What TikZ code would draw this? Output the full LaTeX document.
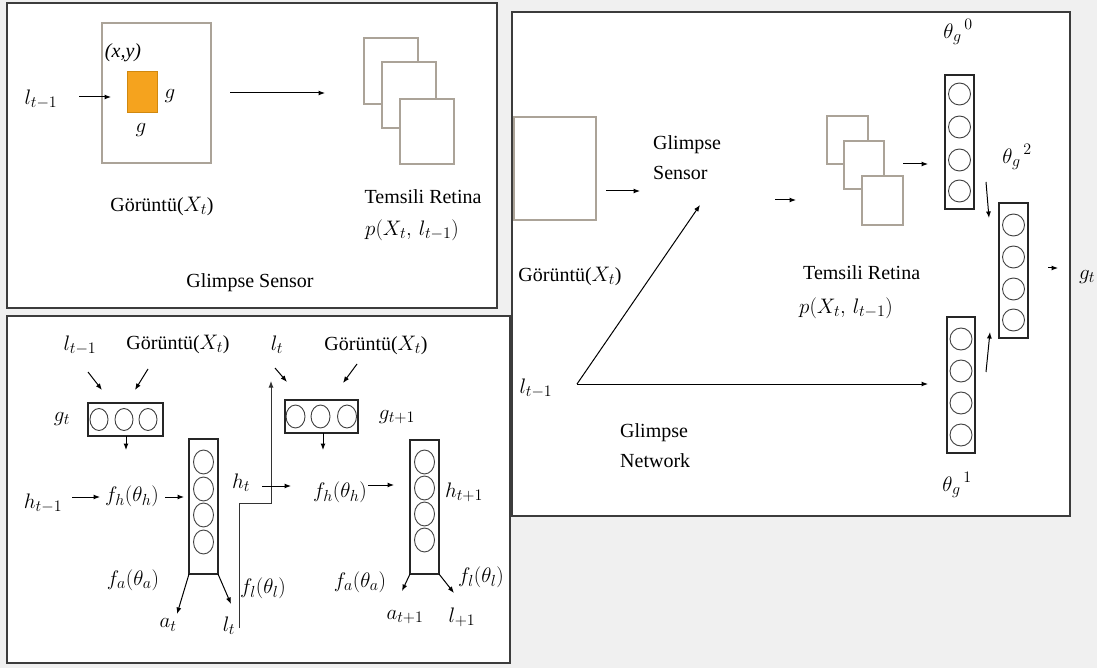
\RequirePackage{fix-cm}
\documentclass[tikz,border=0pt]{standalone}
\usepackage{fontspec}
\setmainfont{Liberation Serif}
\usetikzlibrary{arrows.meta}
\DeclareMathSizes{20}{21}{16}{12}
\definecolor{bgc}{HTML}{F0F0F0}
\definecolor{panelc}{HTML}{3C3C3C}
\definecolor{imgc}{HTML}{ABA398}
\definecolor{orangec}{HTML}{F5A31E}
\definecolor{orangeb}{HTML}{D0880F}
\begin{document}
\begin{tikzpicture}[x=1pt,y=-1pt,
  every node/.style={inner sep=1pt, font=\fontsize{20}{24}\selectfont},
  panel/.style={draw=panelc, line width=1.6pt, fill=white},
  imgbox/.style={draw=imgc, line width=1.2pt, fill=white, inner sep=0pt, outer sep=0pt},
  colbox/.style={draw=black!85, line width=1.3pt, inner sep=0pt, outer sep=0pt},
  neuron/.style={draw=black!75, line width=0.9pt},
  arr/.style={-{Latex[length=6.5pt,width=5pt]}, line width=1pt},
  elbow/.style={draw=black!80, line width=1.1pt}]
\fill[bgc] (0,0) rectangle (1097,668);
\useasboundingbox (0,0) rectangle (1097,668);
\draw[panel] (7,3) rectangle (497,308);
\draw[panel] (7,316) rectangle (510,663);
\draw[panel] (512,12) rectangle (1070,516);

% ---------------- Panel A: Glimpse Sensor
\node[imgbox, minimum width=109, minimum height=140] (img) at (156.5,93) {};
\node[fill=orangec, draw=orangeb, line width=0.8pt, minimum width=30, minimum height=41, inner sep=0pt] (patch) at (142,91.5) {};
\node (xy) at (123,53) {\textit{(x,y)}};
\node (gw) at (170,96) {$g$};
\node (gh) at (141,130) {$g$};
\node (lA) at (41,99) {$l_{t-1}$};
\coordinate (lAs) at (79,97); \coordinate (lAe) at (111,97);
\draw[arr] (lAs) -- (lAe);
\coordinate (mAs) at (230,93); \coordinate (mAe) at (325,93);
\draw[arr] (mAs) -- (mAe);
\node[imgbox, minimum width=54, minimum height=66] (r1) at (391,71) {};
\node[imgbox, minimum width=54, minimum height=66] (r2) at (409,95) {};
\node[imgbox, minimum width=54, minimum height=65] (r3) at (427,131.5) {};
\node (imgtxt) at (162,206) {Görüntü($X_t$)};
\node (rettxt) at (423,197) {Temsili Retina};
\node[anchor=west] (rettxtb) at (364,230) {$p(X_t,\, l_{t-1})$};
\node (gsA) at (250,283) {Glimpse Sensor};

% ---------------- Panel B: recurrent model
\node (lB1) at (80,345) {$l_{t-1}$};
\node (imB1) at (178,344) {Görüntü($X_t$)};
\coordinate (b1s) at (88,372); \coordinate (b1e) at (102,390);
\coordinate (b2s) at (148,369); \coordinate (b2e) at (135,390);
\draw[arr] (b1s) -- (b1e);
\draw[arr] (b2s) -- (b2e);
\node[colbox, minimum width=75, minimum height=33] (gB1) at (125.5,419.5) {};
\foreach \x in {99,124,148} \draw[neuron] (\x,419.5) ellipse [x radius=9pt, y radius=11pt];
\node (gtB) at (62,419) {$g_t$};
\coordinate (b3e) at (126,450);
\draw[arr] (gB1.south -| b3e) -- (b3e);
\node (hm1) at (43,503) {$h_{t-1}$};
\coordinate (b4s) at (72,497); \coordinate (b4e) at (100,497);
\draw[arr] (b4s) -- (b4e);
\node (fh1) at (132,496) {$f_h(\theta_h)$};
\coordinate (b5s) at (165,497); \coordinate (b5e) at (184,497);
\draw[arr] (b5s) -- (b5e);
\node[colbox, minimum width=29, minimum height=135] (hB1) at (203.5,506.5) {};
\foreach \y in {462,489,515,542} \draw[neuron] (203.5,\y) ellipse [x radius=10pt, y radius=12pt];
\node (ht) at (241,483) {$h_t$};
\coordinate (b6e) at (177,614); \coordinate (b7e) at (231,604);
\draw[arr] (hB1.south west) -- (b6e);
\draw[arr] (hB1.south east) -- (b7e);
\node (fa1) at (133,580) {$f_a(\theta_a)$};
\node (at1) at (168,625) {$a_t$};
\node (lt1) at (229,626) {$l_t$};
\node (fl1) at (263,588) {$f_l(\theta_l)$};
\coordinate (e1) at (239,628); \coordinate (e2) at (239,503);
\coordinate (e3) at (271,503); \coordinate (e4) at (271,381);
\draw[elbow, arr] (e1) -- (e2) -- (e3) -- (e4);
\node (lB2) at (277,345) {$l_t$};
\node (imB2) at (376,345) {Görüntü($X_t$)};
\coordinate (c1s) at (275,368); \coordinate (c1e) at (287,382);
\coordinate (c2s) at (357,364); \coordinate (c2e) at (343,383);
\draw[arr] (c1s) -- (c1e);
\draw[arr] (c2s) -- (c2e);
\node[colbox, minimum width=73, minimum height=33] (gB2) at (321.5,416.5) {};
\foreach \x in {295.5,320.5,347} \draw[neuron] (\x,416.5) ellipse [x radius=9.5pt, y radius=11.5pt];
\node (gt2) at (397,417) {$g_{t+1}$};
\coordinate (c3e) at (323,450);
\draw[arr] (gB2.south -| c3e) -- (c3e);
\coordinate (c4s) at (262,486); \coordinate (c4e) at (291,486);
\draw[arr] (c4s) -- (c4e);
\node (fh2) at (340,492) {$f_h(\theta_h)$};
\coordinate (c5s) at (368,485); \coordinate (c5e) at (394,485);
\draw[arr] (c5s) -- (c5e);
\node[colbox, minimum width=29, minimum height=134] (hB2) at (424.5,507) {};
\foreach \y in {462,488,514,540} \draw[neuron] (424.5,\y) ellipse [x radius=10pt, y radius=12pt];
\node (ht2) at (464,492) {$h_{t+1}$};
\coordinate (c6e) at (402,591); \coordinate (c7e) at (454,593);
\draw[arr] (hB2.south west) -- (c6e);
\draw[arr] (hB2.south east) -- (c7e);
\node (fa2) at (360,582) {$f_a(\theta_a)$};
\node (fl2) at (481,577) {$f_l(\theta_l)$};
\node (at2) at (405,617) {$a_{t+1}$};
\node (lt2) at (462,617) {$l_{+1}$};

% ---------------- Panel C: Glimpse Network
\node[imgbox, minimum width=82, minimum height=103] (imgC) at (555,168.5) {};
\coordinate (d1s) at (606,191); \coordinate (d1e) at (640,191);
\draw[arr] (d1s) -- (d1e);
\node[anchor=west, align=left, font=\fontsize{20}{30}\selectfont] (gsC) at (652,158) {Glimpse\\Sensor};
\node (imC) at (570,276) {Görüntü($X_t$)};
\node (lC) at (536,388) {$l_{t-1}$};
\coordinate (d0) at (577,384);
\coordinate (d2e) at (700,205);
\draw[arr] (d0) -- (d2e);
\coordinate (d3s) at (775,200); \coordinate (d3e) at (796,200);
\draw[arr] (d3s) -- (d3e);
\node[imgbox, minimum width=41, minimum height=48] (q1) at (847.5,140) {};
\node[imgbox, minimum width=40, minimum height=48] (q2) at (864,165) {};
\node[imgbox, minimum width=41, minimum height=49] (q3) at (882.5,200.5) {};
\coordinate (d4s) at (903,164); \coordinate (d4e) at (928,164);
\draw[arr] (d4s) -- (d4e);
\node[anchor=west] (retC) at (802,273) {Temsili Retina};
\node[anchor=west] (retCb) at (798,308) {$p(X_t,\, l_{t-1})$};
\node[anchor=west, align=left, font=\fontsize{20}{30}\selectfont] (gnC) at (619,446) {Glimpse\\Network};
\node[colbox, minimum width=29, minimum height=134] (c0) at (959.5,142) {};
\foreach \y in {94,127,160,191} \draw[neuron] (959.5,\y) circle [radius=11pt];
\node[colbox, minimum width=28, minimum height=136] (c1) at (961,385) {};
\foreach \y in {339,371,403,435} \draw[neuron] (961,\y) circle [radius=11pt];
\node[colbox, minimum width=29, minimum height=135] (c2) at (1013.5,270.5) {};
\foreach \y in {225,257,289,320} \draw[neuron] (1013.5,\y) circle [radius=11pt];
\coordinate (d5e) at (928,384);
\draw[arr] (d0) -- (d5e);
\coordinate (d6s) at (986,182); \coordinate (d6e) at (989,218);
\draw[arr] (d6s) -- (d6e);
\coordinate (d7s) at (986,372); \coordinate (d7e) at (990,332);
\draw[arr] (d7s) -- (d7e);
\coordinate (d8s) at (1048,268); \coordinate (d8e) at (1058,268);
\draw[arr] (d8s) -- (d8e);
\node (th0) at (958,32) {${\theta_g}^{\,0}$};
\node (th2) at (1017,157) {${\theta_g}^{\,2}$};
\node (th1) at (957,485) {${\theta_g}^{\,1}$};
\node (gtC) at (1087,277) {$g_t$};
\end{tikzpicture}
\end{document}
